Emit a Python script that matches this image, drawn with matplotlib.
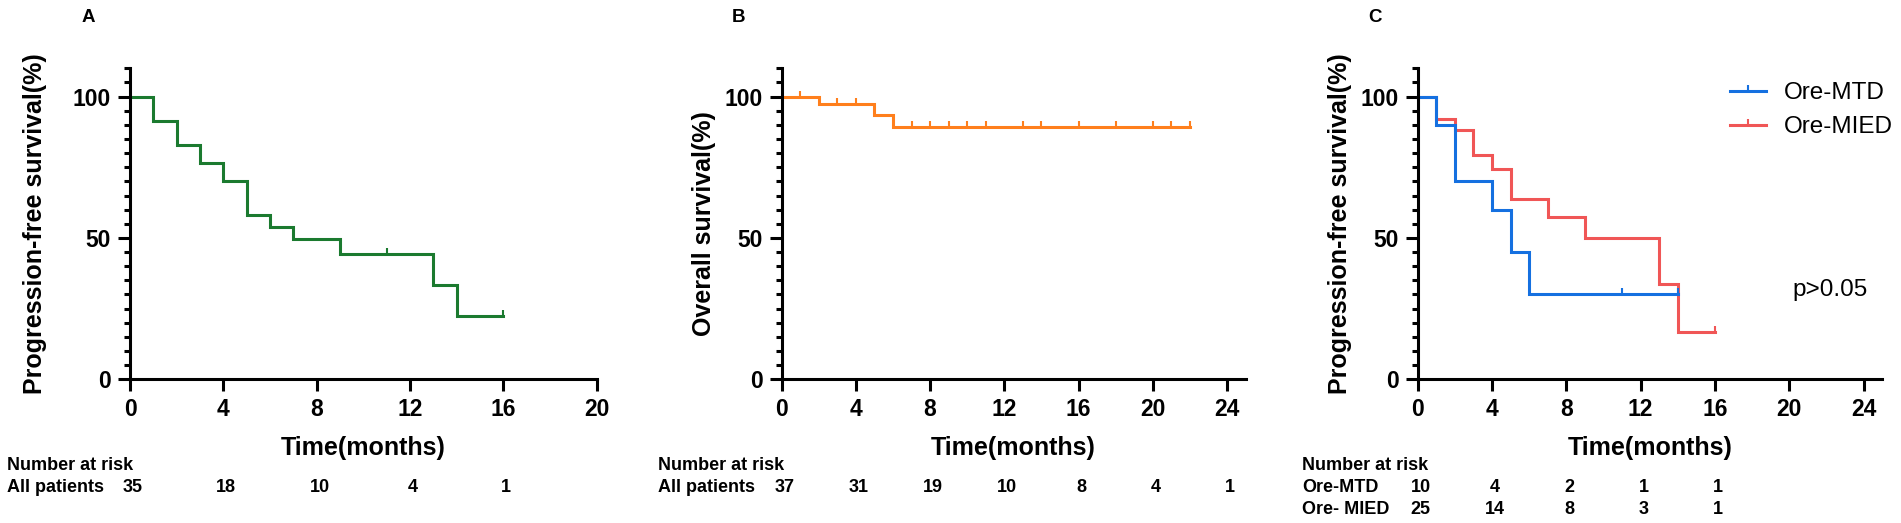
"""
Kaplan-Meier panels: PFS (A), OS (B), PFS by dosing group (C)
"""

import numpy as np
import matplotlib.pyplot as plt
import matplotlib.transforms as mtransforms
from matplotlib.path import Path
from matplotlib.lines import Line2D
from matplotlib.ticker import MultipleLocator

plt.rcParams['font.family'] = ['Liberation Sans', 'DejaVu Sans']
plt.rcParams['font.weight'] = 'bold'
plt.rcParams['axes.labelweight'] = 'bold'

# -----------------------------
# Panel A - progression-free survival, all patients
a_times = [0, 1, 2, 3, 4, 5, 6, 7, 9, 13, 14, 16]
a_surv = [100, 91.4, 82.9, 76.4, 70.0, 58.2, 53.8, 49.5, 44.3, 33.4, 22.4, 22.4]
a_cens_t = [11, 16]
a_cens_s = [44.3, 22.4]
a_risk_t = [0, 4, 8, 12, 16]
a_risk = [35, 18, 10, 4, 1]

# Panel B - overall survival, all patients
b_times = [0, 2, 5, 6, 22]
b_surv = [100, 97.3, 93.5, 89.2, 89.2]
b_cens_t = [1, 3, 4, 7, 8, 9, 10, 11, 13, 14, 16, 18, 20, 21, 22]
b_cens_s = [100, 97.3, 97.3] + [89.2] * 12
b_risk_t = [0, 4, 8, 12, 16, 20, 24]
b_risk = [37, 31, 19, 10, 8, 4, 1]

# Panel C - progression-free survival by group
mtd_times = [0, 1, 2, 4, 5, 6, 14]
mtd_surv = [100, 90, 70, 60, 45, 30, 30]
mtd_cens_t = [11, 14]
mtd_cens_s = [30, 30]
mied_times = [0, 1, 2, 3, 4, 5, 7, 9, 13, 14, 16]
mied_surv = [100, 92, 88, 79.2, 74.4, 63.6, 57.5, 50, 33.6, 16.8, 16.8]
mied_cens_t = [16]
mied_cens_s = [16.8]
c_risk_t = [0, 4, 8, 12, 16]
mtd_risk = [10, 4, 2, 1, 1]
mied_risk = [25, 14, 8, 3, 1]

GREEN = '#1b7a2f'
ORANGE = '#ff7f1c'
BLUE = '#1570e0'
RED = '#f05656'

W, H = 1901, 523
LW = 2.2
CENSOR = Path([(0, 0), (0, 1)])  # upward tick for censored obs

fig = plt.figure(figsize=(W / 100, H / 100), dpi=100)


def add_axes_px(left, right, top, bottom):
    return fig.add_axes([left / W, 1 - bottom / H, (right - left) / W, (bottom - top) / H])


def style(ax, xmax, last_tick, ylabel, ylab_x):
    ax.set_xlim(0, xmax)
    ax.set_ylim(0, 110)
    for s in ['top', 'right']:
        ax.spines[s].set_visible(False)
    for s in ['left', 'bottom']:
        ax.spines[s].set_linewidth(LW)
    ax.set_xticks(np.arange(0, last_tick + 1, 4))
    ax.set_yticks([0, 50, 100])
    ax.yaxis.set_minor_locator(MultipleLocator(5))
    ax.tick_params(which='major', length=8.6, width=LW, labelsize=16.5, pad=5)
    ax.tick_params(which='minor', length=4.3, width=LW)
    ax.set_xlabel('Time(months)', fontsize=18, va='center')
    ax.xaxis.set_label_coords(0.5, -0.221)
    ax.set_ylabel(ylabel, fontsize=18, va='center')
    ax.yaxis.set_label_coords(ylab_x, 0.5)


def km(ax, t, s, ct, cs, color):
    ax.plot(t, s, drawstyle='steps-post', color=color, lw=LW, clip_on=False,
            solid_joinstyle='miter')
    ax.plot(ct, cs, ls='none', marker=CENSOR, ms=8.6, mew=1.5, mec=color, clip_on=False)


def risk_row(ax, y_px, times, counts):
    trans = mtransforms.blended_transform_factory(ax.transData, fig.transFigure)
    trans = mtransforms.offset_copy(trans, fig=fig, x=3, y=0, units='dots')
    for t, n in zip(times, counts):
        ax.text(t, 1 - y_px / H, str(n), transform=trans, ha='center', va='center',
                fontsize=13, clip_on=False)


def fig_text(x_px, y_px, s, **kw):
    fig.text(x_px / W, 1 - y_px / H, s, va='center', **kw)


# Panel A
axA = add_axes_px(130, 596.7, 68.3, 379.3)
km(axA, a_times, a_surv, a_cens_t, a_cens_s, GREEN)
style(axA, 20, 20, 'Progression-free survival(%)', -0.204)
fig_text(88, 18, 'A', fontsize=13.5, ha='center')
fig_text(7, 465, 'Number at risk', fontsize=13, ha='left')
fig_text(7, 488, 'All patients', fontsize=13, ha='left')
risk_row(axA, 488, a_risk_t, a_risk)

# Panel B
axB = add_axes_px(781.7, 1245.5, 68.3, 379.3)
km(axB, b_times, b_surv, b_cens_t, b_cens_s, ORANGE)
style(axB, 25, 24, 'Overall survival(%)', -0.168)
fig_text(738, 18, 'B', fontsize=13.5, ha='center')
fig_text(658, 465, 'Number at risk', fontsize=13, ha='left')
fig_text(658, 488, 'All patients', fontsize=13, ha='left')
risk_row(axB, 488, b_risk_t, b_risk)

# Panel C
axC = add_axes_px(1417.7, 1882.1, 68.3, 379.3)
km(axC, mied_times, mied_surv, mied_cens_t, mied_cens_s, RED)
km(axC, mtd_times, mtd_surv, mtd_cens_t, mtd_cens_s, BLUE)
style(axC, 25, 24, 'Progression-free survival(%)', -0.168)
fig_text(1375, 18, 'C', fontsize=13.5, ha='center')
fig_text(1302, 465, 'Number at risk', fontsize=13, ha='left')
fig_text(1302, 487, 'Ore-MTD', fontsize=13, ha='left')
fig_text(1302, 509, 'Ore- MIED', fontsize=13, ha='left')
risk_row(axC, 487, c_risk_t, mtd_risk)
risk_row(axC, 509, c_risk_t, mied_risk)

axC.text(22.2, 31.6, 'p>0.05', fontsize=17.5, fontweight='normal', ha='center', va='center')

handles = [Line2D([0], [0], color=c, lw=LW, marker=CENSOR, ms=8.6, mew=1.5, mec=c)
           for c in (BLUE, RED)]
axC.legend(handles, ['Ore-MTD', 'Ore-MIED'], loc='upper left',
           bbox_to_anchor=(1730 / W, 1 - 82 / H), bbox_transform=fig.transFigure,
           frameon=False, numpoints=1, handlelength=1.5, handletextpad=0.7,
           labelspacing=0.5, borderpad=0, borderaxespad=0,
           prop={'size': 17.5, 'weight': 'normal'})

fig.savefig('out.png', dpi=100)
